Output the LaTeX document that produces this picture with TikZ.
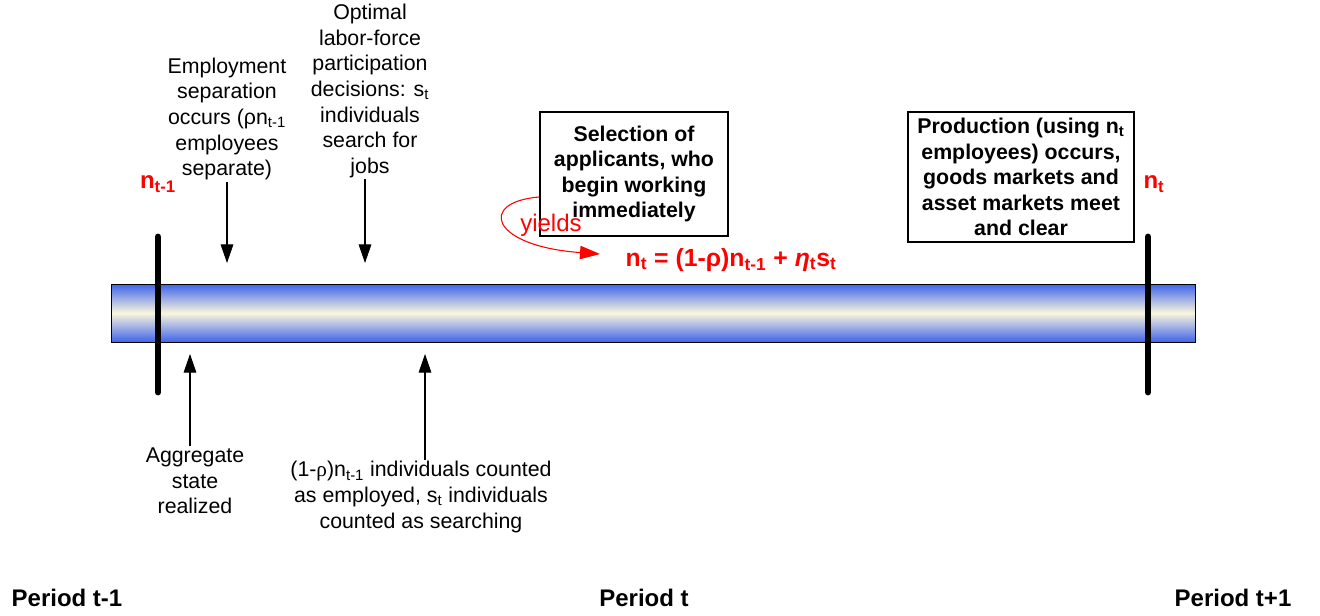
\documentclass[tikz,border=0pt]{standalone}
\usepackage{fontspec}
\setmainfont{Liberation Sans}
\newfontfamily\greekserif{Liberation Serif}
\usetikzlibrary{arrows.meta,calc}

\definecolor{barblue}{RGB}{62,100,236}
\definecolor{barcream}{RGB}{250,246,220}

\tikzset{
  note/.style={align=center, font=\fontsize{16}{19.2}\selectfont, inner sep=1pt},
  eventbox/.style={draw, line width=1.5pt, align=center, font=\fontsize{16}{19.2}\selectfont\bfseries},
  redlabel/.style={red, font=\fontsize{18}{21}\selectfont\bfseries},
  period/.style={font=\fontsize{18}{21}\selectfont\bfseries},
  pointer/.style={-{Triangle[length=14pt,width=9.5pt]}, line width=0.8pt},
  marker/.style={line width=5.2pt, line cap=round},
  yieldarrow/.style={red, line width=0.8pt, -{Triangle[length=15pt,width=10pt]}},
}

\begin{document}
\begin{tikzpicture}[x=0.75pt, y=-0.75pt]
\useasboundingbox (0,0) rectangle (1320,615);

% time bar
\draw[top color=barblue, bottom color=barblue, middle color=barcream, line width=0.6pt]
  (111,284) rectangle (1195,342);

% period boundaries
\draw[marker] (158,237) -- (158,392);
\draw[marker] (1148,237) -- (1148,392);
\node[redlabel] (nprev) at (158,184) {n\textsubscript{t-1}};
\node[redlabel] (ncur) at (1154,184) {n\textsubscript{t}};

% events above the bar
\node[note] (sep) at (227,119) {Employment\\separation\\occurs (ρn\textsubscript{t-1}\\employees\\separate)};
\node[note] (opt) at (370,91) {Optimal\\labor-force\\participation\\decisions: s\textsubscript{t}\\individuals\\search for\\jobs};
\coordinate (sepend) at (227,263);
\coordinate (optend) at (365,263);
\draw[pointer] (sep.south) -- (sepend);
\draw[pointer] (opt.south -| optend) -- (optend);

% events below the bar
\node[note] (agg) at (195,481) {Aggregate\\state\\realized};
\node[note] (count) at (421,497) {(1-{\greekserif ρ})n\textsubscript{t-1} individuals counted\\as employed, s\textsubscript{t} individuals\\counted as searching};
\coordinate (aggend) at (190,354);
\coordinate (countend) at (425,354);
\draw[pointer] (agg.north -| aggend) -- (aggend);
\draw[pointer] (count.north -| countend) -- (countend);

% boxed events
\node[eventbox, minimum width=141pt, minimum height=93pt] (box1) at (634,174)
  {Selection of\\applicants, who\\begin working\\immediately};
\node[eventbox, minimum width=169.5pt, minimum height=97.5pt] (box2) at (1021,177)
  {Production (using n\textsubscript{t}\\employees) occurs,\\goods markets and\\asset markets meet\\and clear};

% law of motion
\node[redlabel, font=\fontsize{18.6}{21}\selectfont\bfseries, anchor=west] (eq) at (621,260)
  {n\textsubscript{t} = (1-ρ)n\textsubscript{t-1} + {\itshape η}\textsubscript{t}s\textsubscript{t}};
\coordinate (yieldtip) at (600,254);
\draw[yieldarrow] ($(box1.south west)+(0,-40)$) .. controls (478,202) and (490,246) .. (yieldtip);
\node[red, font=\fontsize{18}{21}\selectfont] (yields) at (551,225) {yields};

% periods
\node[period] (pprev) at (67,598) {Period t-1};
\node[period] (pcur) at (644,598) {Period t};
\node[period] (pnext) at (1233,598) {Period t+1};

\end{tikzpicture}
\end{document}
